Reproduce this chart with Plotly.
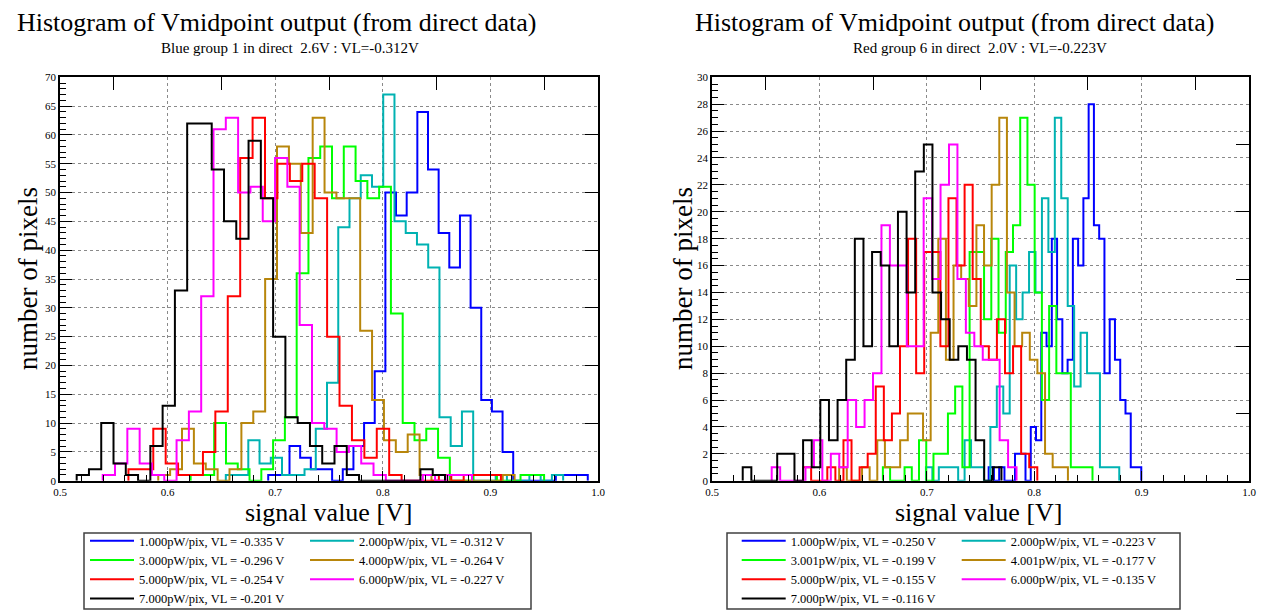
import plotly.graph_objects as go

FONT = "Liberation Serif"
# the page adds an 8 px body margin; the figure fills the rest of the 1269x610 window
OFF = 8
W, H = 1269 - OFF, 610 - OFF


def px(x):
    return (x - OFF) / W


def py(y):
    return 1 - (y - OFF) / H


COLORS = ["#0000ff", "#00b2b2", "#00ff00", "#b8860b", "#ff0000", "#ff00ff", "#000000"]

LEFT_LABELS = [
    "1.000pW/pix, VL = -0.335 V", "2.000pW/pix, VL = -0.312 V",
    "3.000pW/pix, VL = -0.296 V", "4.000pW/pix, VL = -0.264 V",
    "5.000pW/pix, VL = -0.254 V", "6.000pW/pix, VL = -0.227 V",
    "7.000pW/pix, VL = -0.201 V",
]
RIGHT_LABELS = [
    "1.000pW/pix, VL = -0.250 V", "2.000pW/pix, VL = -0.223 V",
    "3.001pW/pix, VL = -0.199 V", "4.001pW/pix, VL = -0.177 V",
    "5.000pW/pix, VL = -0.155 V", "6.000pW/pix, VL = -0.135 V",
    "7.000pW/pix, VL = -0.116 V",
]

# ---- left panel: bin start, bin width, counts per series ----
LEFT_STARTS = [0.6935, 0.6541, 0.6214, 0.5913, 0.5636, 0.5397, 0.5155]
LEFT_WIDTHS = [0.0099, 0.01045, 0.01095, 0.01104, 0.01154, 0.01144, 0.01141]
left_c1 = [1, 1, 6, 4, 2, 2, 0, 2, 6, 10, 19, 50, 46, 50, 64, 54, 43, 37, 46, 30, 14, 12, 5, 0, 0, 0, 0, 1, 1, 1]
left_c2 = [1, 1, 7, 3, 4, 1, 1, 2, 9, 17, 44, 49, 53, 51, 67, 45, 43, 41, 37, 11, 6, 12, 0, 0, 1, 0, 0, 1, 0, 1]
left_c3 = [1, 1, 10, 3, 2, 0, 2, 7, 11, 36, 56, 58, 49, 58, 52, 49, 51, 29, 10, 7, 9, 4, 0, 0, 1, 1, 0, 0, 1, 1]
left_c4 = [1, 2, 9, 3, 2, 0, 2, 10, 12, 35, 58, 55, 43, 63, 50, 49, 49, 26, 14, 7, 5, 8, 1, 0, 0, 0, 0, 0, 0, 1]
left_c5 = [2, 2, 9, 3, 1, 1, 5, 12, 32, 56, 63, 49, 55, 52, 55, 49, 25, 13, 7, 4, 9, 1, 0, 0, 0, 1, 0, 1, 1, 1]
left_c6 = [1, 3, 9, 3, 1, 0, 7, 12, 32, 61, 63, 50, 51, 45, 56, 51, 27, 10, 9, 5, 6, 3, 1, 0, 0, 0, 1, 0, 1, 1]
left_c7 = [1, 2, 10, 3, 1, 0, 6, 13, 33, 62, 62, 54, 45, 42, 59, 49, 25, 11, 10, 6, 3, 6, 1, 0, 0, 0, 0, 0, 2, 1]
LEFT_COUNTS = [left_c1, left_c2, left_c3, left_c4, left_c5, left_c6, left_c7]

# ---- right panel ----
RIGHT_STARTS = [0.7576, 0.6992, 0.6591, 0.6184, 0.5848, 0.5556, 0.5286]
RIGHT_WIDTHS = [0.0049, 0.0060, 0.00673, 0.0071, 0.00752, 0.00786, 0.00803]
right_c1 = [1, 0, 1, 0, 0, 2, 2, 0, 4, 3, 11, 10, 18, 12, 8, 9, 18, 16, 21, 28, 19, 18, 8, 12, 9, 6, 5, 1, 1]
right_c2 = [1, 0, 1, 1, 1, 0, 3, 1, 1, 0, 4, 7, 5, 16, 12, 14, 17, 14, 21, 17, 27, 21, 13, 7, 11, 8, 8, 1, 1, 1]
right_c3 = [1, 0, 0, 1, 0, 3, 0, 2, 2, 5, 7, 1, 17, 17, 12, 18, 11, 17, 19, 27, 22, 14, 6, 13, 8, 8, 1, 1, 1]
right_c4 = [1, 0, 0, 1, 0, 3, 1, 1, 3, 5, 5, 3, 11, 18, 9, 16, 15, 13, 19, 16, 22, 27, 14, 10, 11, 9, 8, 2, 1, 1]
right_c5 = [1, 0, 0, 1, 0, 3, 0, 1, 2, 7, 3, 5, 10, 18, 8, 17, 17, 10, 21, 16, 22, 15, 10, 9, 12, 8, 10, 2, 1]
right_c6 = [1, 0, 0, 0, 1, 3, 0, 2, 1, 6, 4, 6, 8, 19, 16, 16, 10, 10, 21, 15, 22, 25, 15, 11, 10, 9, 9, 3, 1]
right_c7 = [1, 0, 0, 0, 2, 2, 0, 3, 1, 6, 3, 6, 9, 18, 10, 17, 16, 10, 20, 14, 23, 25, 14, 12, 9, 10, 9, 3, 0, 1]
RIGHT_COUNTS = [right_c1, right_c2, right_c3, right_c4, right_c5, right_c6, right_c7]

X_TICKS = [0.5, 0.6, 0.7, 0.8, 0.9, 1.0]


def step_outline(start, width, counts):
    n = len(counts)
    edges = [start + width * i for i in range(n + 1)]
    xs = [edges[0]] + edges[:n] + [edges[n]]
    ys = [0] + list(counts) + [0]
    return xs, ys


fig = go.Figure()

# legend columns: series 1,3,5,7 in the first column, 2,4,6 in the second
for i in range(7):
    xs, ys = step_outline(LEFT_STARTS[i], LEFT_WIDTHS[i], LEFT_COUNTS[i])
    fig.add_trace(go.Scatter(x=xs, y=ys, mode="lines", line_shape="hv",
                             line=dict(color=COLORS[i], width=2),
                             name=LEFT_LABELS[i],
                             legend="legend" if i % 2 == 0 else "legend3",
                             xaxis="x", yaxis="y"))
for i in range(7):
    xs, ys = step_outline(RIGHT_STARTS[i], RIGHT_WIDTHS[i], RIGHT_COUNTS[i])
    fig.add_trace(go.Scatter(x=xs, y=ys, mode="lines", line_shape="hv",
                             line=dict(color=COLORS[i], width=2),
                             name=RIGHT_LABELS[i],
                             legend="legend2" if i % 2 == 0 else "legend4",
                             xaxis="x3", yaxis="y3"))

# empty helper traces so the overlay (top/right) axes are drawn
fig.add_trace(go.Scatter(x=[None], y=[None], xaxis="x2", yaxis="y2", showlegend=False, hoverinfo="skip"))
fig.add_trace(go.Scatter(x=[None], y=[None], xaxis="x4", yaxis="y4", showlegend=False, hoverinfo="skip"))

YDOM = [py(480.7), py(77.3)]
LDOM = [px(60), px(598)]
RDOM = [px(712), px(1249)]

tickfont = dict(family=FONT, size=11, color="black")
grid = dict(showgrid=True, gridcolor="#8a8a8a", griddash="3px,3px", gridwidth=1)


def bottom_x(domain, anchor):
    return dict(domain=domain, anchor=anchor, range=[0.5, 1.0], tickvals=X_TICKS,
                tickformat=".1f", ticks="inside", ticklen=10, tickcolor="black",
                tickfont=tickfont, showline=True, linecolor="black", linewidth=1.5,
                zeroline=False,
                minor=dict(dtick=0.02, tick0=0.5, ticks="inside", ticklen=6,
                           tickcolor="black", showgrid=False),
                **grid)


def top_x(domain, anchor, over):
    return dict(domain=domain, anchor=anchor, overlaying=over, side="top",
                range=[0.5, 1.0], tick0=0.55, dtick=0.1, ticks="inside", ticklen=13,
                tickcolor="black", showticklabels=False, showgrid=False,
                showline=True, linecolor="black", linewidth=1.5, zeroline=False)


def left_y(domain, anchor, ymax, dtick, minor):
    return dict(domain=domain, anchor=anchor, range=[0, ymax], dtick=dtick, tick0=0,
                ticks="inside", ticklen=12, tickcolor="black", tickfont=tickfont,
                showline=True, linecolor="black", linewidth=1.5, zeroline=False,
                minor=dict(dtick=minor, ticks="inside", ticklen=6, tickcolor="black",
                           showgrid=False),
                **grid)


def right_y(domain, anchor, over, ymax, dtick):
    return dict(domain=domain, anchor=anchor, overlaying=over, side="right",
                range=[0, ymax], tick0=0, dtick=dtick, ticks="inside", ticklen=13,
                tickcolor="black", showticklabels=False, showgrid=False,
                showline=True, linecolor="black", linewidth=1.5, zeroline=False)


LEG_TOP = 526
legend_common = dict(orientation="v", xanchor="left", yanchor="top",
                     itemwidth=44, borderwidth=0, bgcolor="rgba(0,0,0,0)",
                     font=dict(family=FONT, size=12.5, color="black"),
                     traceorder="normal", y=py(LEG_TOP))

ann_font = lambda s: dict(family=FONT, size=s, color="black")
annotations = [
    dict(text="Histogram of Vmidpoint output (from direct data)", x=px(276.5), y=py(22),
         font=ann_font(26)),
    dict(text="Blue group 1 in direct  2.6V : VL=-0.312V", x=px(290), y=py(48),
         font=ann_font(15)),
    dict(text="Histogram of Vmidpoint output (from direct data)", x=px(954), y=py(22),
         font=ann_font(26)),
    dict(text="Red group 6 in direct  2.0V : VL=-0.223V", x=px(980), y=py(48),
         font=ann_font(15)),
    dict(text="signal value [V]", x=px(329), y=py(512), font=ann_font(26)),
    dict(text="signal value [V]", x=px(979), y=py(512), font=ann_font(26)),
    dict(text="number of pixels", x=px(28), y=py(279), textangle=-90, font=ann_font(27)),
    dict(text="number of pixels", x=px(683), y=py(279), textangle=-90, font=ann_font(27)),
]
for a in annotations:
    a.update(xref="paper", yref="paper", showarrow=False, xanchor="center", yanchor="middle",
             borderpad=0)

# legend frames
shapes = [
    dict(type="rect", xref="paper", yref="paper", x0=px(84), x1=px(531),
         y0=py(609), y1=py(533), line=dict(color="#404040", width=1.5)),
    dict(type="rect", xref="paper", yref="paper", x0=px(727), x1=px(1180),
         y0=py(609), y1=py(533), line=dict(color="#404040", width=1.5)),
]

fig.update_layout(
    width=W, height=H,
    margin=dict(l=0, r=0, t=0, b=0, autoexpand=False),
    paper_bgcolor="white", plot_bgcolor="white",
    font=dict(family=FONT, color="black"),
    xaxis=bottom_x(LDOM, "y"),
    xaxis2=top_x(LDOM, "y2", "x"),
    yaxis=left_y(YDOM, "x", 70, 5, 1),
    yaxis2=right_y(YDOM, "x2", "y", 70, 10),
    xaxis3=bottom_x(RDOM, "y3"),
    xaxis4=top_x(RDOM, "y4", "x3"),
    yaxis3=left_y(YDOM, "x3", 30, 2, 0.5),
    yaxis4=right_y(YDOM, "x4", "y3", 30, 5),
    legend=dict(x=px(85), **legend_common),
    legend3=dict(x=px(305), **legend_common),
    legend2=dict(x=px(736.7), **legend_common),
    legend4=dict(x=px(956.7), **legend_common),
    annotations=annotations,
    shapes=shapes,
    showlegend=True,
)

fig.write_html("out.html")
